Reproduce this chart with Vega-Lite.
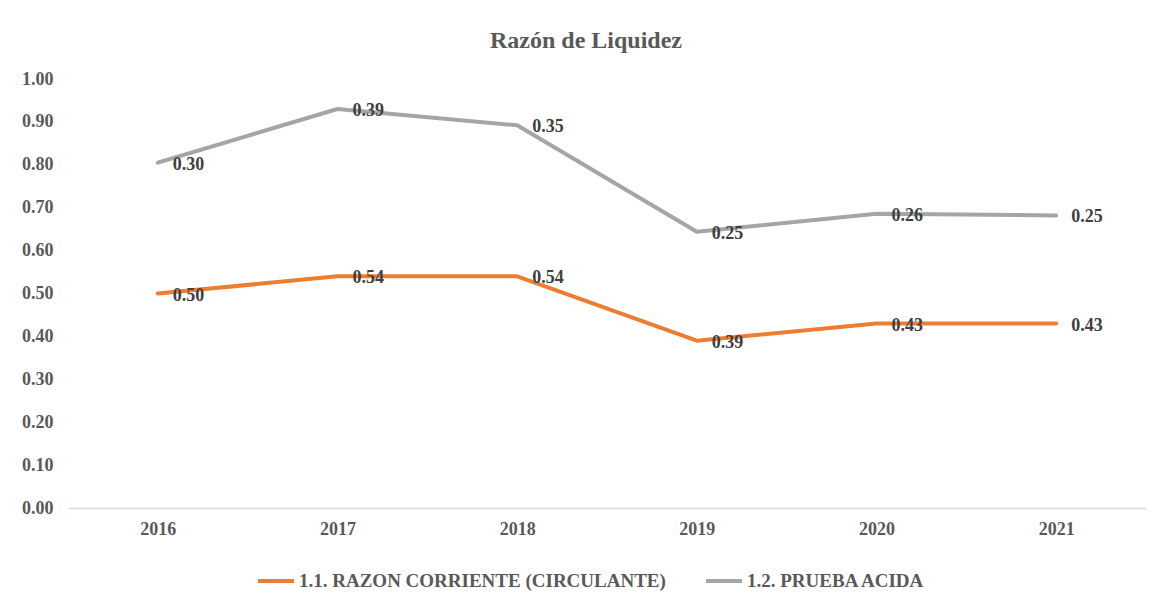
{
  "$schema": "https://vega.github.io/schema/vega-lite/v6.json",
  "width": 1078,
  "height": 429,
  "autosize": "none",
  "padding": {"left": 68, "top": 79, "right": 14, "bottom": 91},
  "background": "white",
  "config": {"view": {"stroke": null}},
  "title": {
    "text": "Razón  de Liquidez",
    "font": "Liberation Serif",
    "fontSize": 24,
    "fontWeight": "bold",
    "color": "#595959",
    "anchor": "middle",
    "dx": -21,
    "dy": 30,
    "offset": 28,
    "baseline": "alphabetic"
  },
  "data": {
    "values": [
      {"anio": "2016", "serie": "1.1. RAZON CORRIENTE (CIRCULANTE)", "orden": 1, "valor": 0.50},
      {"anio": "2017", "serie": "1.1. RAZON CORRIENTE (CIRCULANTE)", "orden": 1, "valor": 0.54},
      {"anio": "2018", "serie": "1.1. RAZON CORRIENTE (CIRCULANTE)", "orden": 1, "valor": 0.54},
      {"anio": "2019", "serie": "1.1. RAZON CORRIENTE (CIRCULANTE)", "orden": 1, "valor": 0.39},
      {"anio": "2020", "serie": "1.1. RAZON CORRIENTE (CIRCULANTE)", "orden": 1, "valor": 0.43},
      {"anio": "2021", "serie": "1.1. RAZON CORRIENTE (CIRCULANTE)", "orden": 1, "valor": 0.43},
      {"anio": "2016", "serie": "1.2. PRUEBA ACIDA", "orden": 2, "valor": 0.305},
      {"anio": "2017", "serie": "1.2. PRUEBA ACIDA", "orden": 2, "valor": 0.39},
      {"anio": "2018", "serie": "1.2. PRUEBA ACIDA", "orden": 2, "valor": 0.352},
      {"anio": "2019", "serie": "1.2. PRUEBA ACIDA", "orden": 2, "valor": 0.254},
      {"anio": "2020", "serie": "1.2. PRUEBA ACIDA", "orden": 2, "valor": 0.256},
      {"anio": "2021", "serie": "1.2. PRUEBA ACIDA", "orden": 2, "valor": 0.252}
    ]
  },
  "transform": [
    {"stack": "valor", "groupby": ["anio"], "sort": [{"field": "orden", "order": "ascending"}], "as": ["y0", "y1"]}
  ],
  "encoding": {
    "x": {
      "field": "anio",
      "type": "ordinal",
      "scale": {"type": "point", "padding": 0.5},
      "axis": {
        "title": null,
        "labelAngle": 0,
        "ticks": false,
        "domainColor": "#d9d9d9",
        "domainWidth": 1.5,
        "labelFont": "Liberation Serif",
        "labelFontSize": 18,
        "labelFontWeight": "bold",
        "labelColor": "#595959",
        "labelPadding": 12
      }
    },
    "y": {
      "field": "y1",
      "type": "quantitative",
      "scale": {"domain": [0, 1], "nice": false},
      "axis": {
        "title": null,
        "values": [0, 0.1, 0.2, 0.3, 0.4, 0.5, 0.6, 0.7, 0.8, 0.9, 1.0],
        "format": ".2f",
        "domain": false,
        "ticks": false,
        "grid": false,
        "labelFont": "Liberation Serif",
        "labelFontSize": 18,
        "labelFontWeight": "bold",
        "labelColor": "#595959",
        "labelPadding": 15
      }
    }
  },
  "layer": [
    {
      "mark": {"type": "line", "strokeWidth": 4, "strokeCap": "round", "strokeJoin": "round"},
      "encoding": {
        "color": {
          "field": "serie",
          "type": "nominal",
          "scale": {"domain": ["1.1. RAZON CORRIENTE (CIRCULANTE)", "1.2. PRUEBA ACIDA"], "range": ["#ED7D31", "#A5A5A5"]},
          "legend": {
            "title": null,
            "orient": "none",
            "direction": "horizontal",
            "legendX": 188,
            "legendY": 482,
            "symbolType": "stroke",
            "symbolSize": 1296,
            "symbolStrokeWidth": 4,
            "labelFont": "Liberation Serif",
            "labelFontSize": 19,
            "labelFontWeight": "bold",
            "labelColor": "#595959",
            "labelOffset": 3,
            "labelLimit": 600,
            "columnPadding": 32,
            "padding": 0
          }
        }
      }
    },
    {
      "mark": {"type": "text", "align": "left", "baseline": "middle", "dx": 15, "dy": 2, "font": "Liberation Serif", "fontSize": 18, "fontWeight": "bold", "color": "#404040"},
      "encoding": {
        "text": {"field": "valor", "type": "quantitative", "format": ".2f"}
      }
    }
  ]
}
